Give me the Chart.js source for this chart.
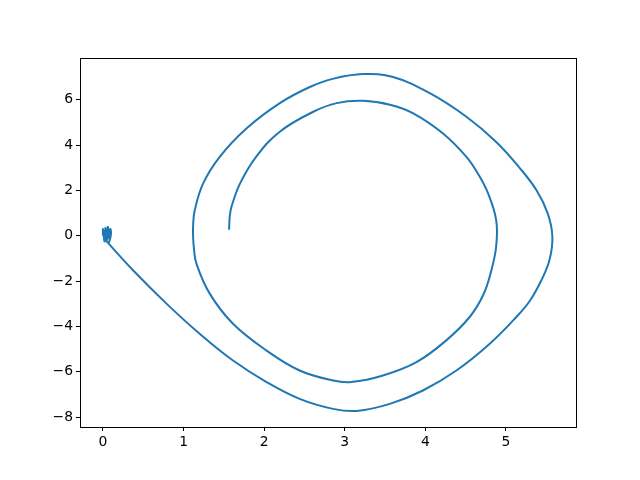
<!DOCTYPE html>
<html>
<head>
<meta charset="utf-8">
<script src="https://cdn.jsdelivr.net/npm/chart.js@4/dist/chart.umd.min.js"></script>
<style>
html,body{margin:0;padding:0;background:#fff;}
#wrap{width:640px;height:480px;}
</style>
</head>
<body>
<div id="wrap"><canvas id="c" width="640" height="480"></canvas></div>
<script>
// Phase trajectory
const xValues = [
  0.00, 0.00, 0.02, 0.03, 0.05, 0.06, 0.08, 0.09, 0.10, 0.07, 0.04,
  0.373, 0.788, 1.20, 1.614, 2.03, 2.44, 2.855, 3.15,
  3.56, 3.97, 4.386, 4.80, 5.13, 5.30, 5.44, 5.54, 5.577,
  5.52, 5.38, 5.16, 4.88, 4.51, 4.05, 3.60, 3.23,
  2.85, 2.56, 2.19, 1.78, 1.449, 1.242, 1.139, 1.12, 1.118,
  1.13, 1.16, 1.325, 1.614, 2.03, 2.44, 2.855, 3.08,
  3.475, 3.89, 4.26, 4.55, 4.72, 4.82, 4.88,
  4.88, 4.78, 4.66, 4.51, 4.22, 3.85, 3.56, 3.23,
  2.90, 2.61, 2.19, 1.90, 1.70, 1.594, 1.573, 1.565
];
const yValues = [
  0.00, 0.30, -0.25, 0.35, -0.20, 0.40, -0.15, 0.30, 0.10, -0.30, -0.22,
  -1.52, -2.99, -4.32, -5.50, -6.45, -7.19, -7.63, -7.72,
  -7.41, -6.82, -5.94, -4.76, -3.58, -2.85, -1.96, -1.08, -0.05,
  0.98, 2.01, 3.04, 4.14, 5.25, 6.30, 7.00, 7.13,
  6.92, 6.55, 5.84, 4.73, 3.48, 2.30, 1.13, 0.55, 0.00,
  -0.60, -1.23, -2.55, -3.88, -5.06, -5.94, -6.38, -6.45,
  -6.16, -5.57, -4.61, -3.58, -2.60, -1.52, -0.45,
  0.68, 1.86, 2.70, 3.48, 4.51, 5.40, 5.78, 5.95,
  5.85, 5.47, 4.58, 3.48, 2.30, 1.27, 0.83, 0.27
];
const xTicks = [0, 1, 2, 3, 4, 5];
const yTicks = [-8, -6, -4, -2, 0, 2, 4, 6];

const points = xValues.map((x, i) => ({x: x, y: yValues[i]}));
const fmt = v => (v < 0 ? '\u2212' + Math.abs(v) : String(v));

const boxPlugin = {
  id: 'box',
  afterDraw(chart) {
    const a = chart.chartArea, ctx = chart.ctx;
    ctx.save();
    ctx.strokeStyle = '#000';
    ctx.lineWidth = 1;
    ctx.strokeRect(Math.round(a.left) + 0.5, Math.round(a.top) + 0.5,
                   Math.round(a.right - a.left), Math.round(a.bottom - a.top));
    ctx.restore();
  }
};

const font = {family: 'DejaVu Sans', size: 13.9};

new Chart(document.getElementById('c'), {
  type: 'scatter',
  data: {
    datasets: [{
      data: points,
      showLine: true,
      borderColor: '#1f77b4',
      borderWidth: 2,
      pointRadius: 0,
      tension: 0.4,
      fill: false
    }]
  },
  options: {
    responsive: false,
    animation: false,
    devicePixelRatio: 1,
    layout: {padding: {left: 0, right: 64, top: 58, bottom: 0}},
    plugins: {legend: {display: false}, tooltip: {enabled: false}},
    scales: {
      x: {
        type: 'linear',
        min: -0.285, max: 5.87,
        afterBuildTicks: s => { s.ticks = xTicks.map(v => ({value: v})); },
        afterFit: s => { s.height = 53; },
        grid: {drawOnChartArea: false, tickLength: 4, color: '#000', tickColor: '#000'},
        border: {display: true, color: '#000', width: 1},
        ticks: {font: font, color: '#000', padding: 3, maxRotation: 0, callback: v => fmt(v)}
      },
      y: {
        type: 'linear',
        min: -8.43, max: 7.84,
        afterBuildTicks: s => { s.ticks = yTicks.map(v => ({value: v})); },
        afterFit: s => { s.width = 80; },
        grid: {drawOnChartArea: false, tickLength: 4, color: '#000', tickColor: '#000'},
        border: {display: true, color: '#000', width: 1},
        ticks: {font: font, color: '#000', padding: 3, callback: v => fmt(v)}
      }
    }
  },
  plugins: [boxPlugin]
});
</script>
</body>
</html>
